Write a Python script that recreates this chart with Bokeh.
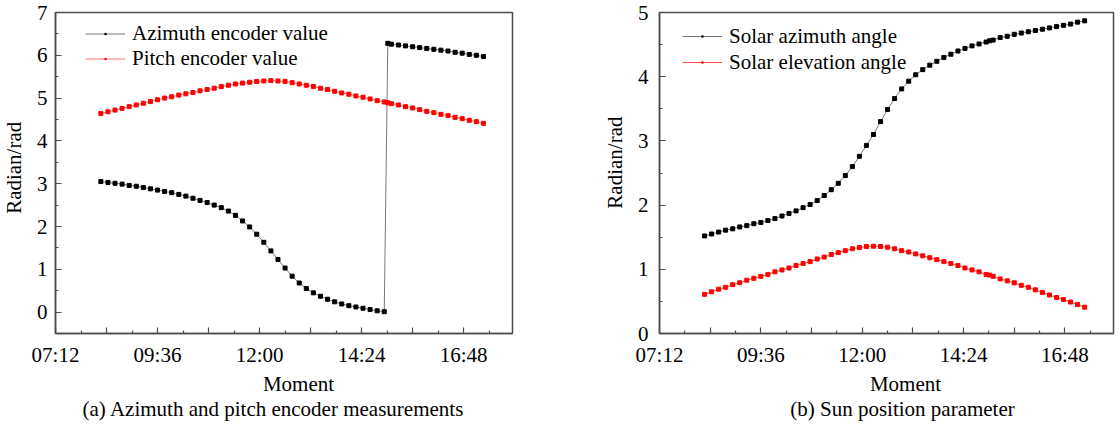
import math
from bokeh.plotting import figure
from bokeh.models import FixedTicker, Legend, LegendItem
from bokeh.layouts import row, column
from bokeh.embed import file_html
from bokeh.resources import INLINE
from bokeh.core.properties import value

# ---------------- data ----------------
times = ["08:16", "08:26", "08:36", "08:46", "08:56", "09:06", "09:16", "09:26", "09:36", "09:46",
         "09:56", "10:06", "10:16", "10:26", "10:36", "10:46", "10:56", "11:06", "11:16", "11:26",
         "11:36", "11:46", "11:56", "12:06", "12:16", "12:26", "12:36", "12:46", "12:56", "13:06",
         "13:16", "13:26", "13:36", "13:46", "13:56", "14:06", "14:16", "14:26", "14:36", "14:46",
         "14:56", "15:01", "15:06", "15:16", "15:26", "15:36", "15:46", "15:56", "16:06", "16:16",
         "16:26", "16:36", "16:46", "16:56", "17:06", "17:16"]

azimuth_encoder = [3.05, 3.03, 3.01, 2.99, 2.96, 2.94, 2.91, 2.88, 2.85, 2.82,
                   2.79, 2.75, 2.71, 2.66, 2.61, 2.56, 2.50, 2.44, 2.36, 2.26,
                   2.13, 1.99, 1.82, 1.63, 1.43, 1.23, 1.03, 0.84, 0.68, 0.55,
                   0.45, 0.37, 0.30, 0.24, 0.19, 0.15, 0.12, 0.09, 0.06, 0.03,
                   0.01, 6.28, 6.26, 6.24, 6.22, 6.20, 6.18, 6.16, 6.14, 6.12,
                   6.10, 6.07, 6.05, 6.02, 6.00, 5.97]

pitch_encoder = [4.64, 4.68, 4.72, 4.76, 4.80, 4.84, 4.88, 4.92, 4.96, 5.00,
                 5.03, 5.07, 5.10, 5.13, 5.17, 5.20, 5.23, 5.27, 5.30, 5.33,
                 5.35, 5.37, 5.39, 5.40, 5.41, 5.40, 5.39, 5.36, 5.33, 5.30,
                 5.27, 5.23, 5.20, 5.16, 5.12, 5.09, 5.05, 5.02, 4.98, 4.94,
                 4.91, 4.89, 4.87, 4.84, 4.80, 4.77, 4.73, 4.69, 4.66, 4.62,
                 4.59, 4.55, 4.52, 4.48, 4.45, 4.41]

solar_azimuth = [1.52, 1.55, 1.58, 1.61, 1.63, 1.66, 1.68, 1.71, 1.73, 1.76,
                 1.79, 1.83, 1.87, 1.91, 1.96, 2.01, 2.07, 2.15, 2.24, 2.34,
                 2.46, 2.60, 2.76, 2.93, 3.10, 3.30, 3.49, 3.66, 3.81, 3.93,
                 4.03, 4.11, 4.18, 4.24, 4.30, 4.35, 4.40, 4.44, 4.48, 4.51,
                 4.54, 4.56, 4.57, 4.61, 4.63, 4.66, 4.68, 4.70, 4.72, 4.74,
                 4.76, 4.78, 4.80, 4.82, 4.85, 4.87]

solar_elevation = [0.61, 0.65, 0.69, 0.72, 0.76, 0.79, 0.83, 0.86, 0.89, 0.92,
                   0.96, 0.99, 1.02, 1.06, 1.09, 1.12, 1.16, 1.19, 1.23, 1.26,
                   1.29, 1.32, 1.34, 1.355, 1.36, 1.355, 1.345, 1.32, 1.29, 1.27,
                   1.24, 1.21, 1.18, 1.15, 1.12, 1.09, 1.06, 1.02, 0.99, 0.96,
                   0.92, 0.91, 0.89, 0.85, 0.82, 0.79, 0.75, 0.72, 0.68, 0.64,
                   0.60, 0.56, 0.53, 0.49, 0.45, 0.41]

x_major_ticks = [7.2, 8.4, 9.6, 10.8, 12.0, 13.2, 14.4, 15.6, 16.8]
x_major_labels = ["07:12", "", "09:36", "", "12:00", "", "14:24", "", "16:48"]
x_minor_ticks = [7.8, 9.0, 10.2, 11.4, 12.6, 13.8, 15.0, 16.2, 17.4]

left_y_ticks = [0, 1, 2, 3, 4, 5, 6, 7]
left_y_minor = [0.5, 1.5, 2.5, 3.5, 4.5, 5.5, 6.5]
right_y_ticks = [0, 1, 2, 3, 4, 5]
right_y_minor = [0.5, 1.5, 2.5, 3.5, 4.5]

y_label = "Radian/rad"
x_label = "Moment"
captions = ["(a) Azimuth and pitch encoder measurements", "(b) Sun position parameter"]
legend_a = ["Azimuth encoder value", "Pitch encoder value"]
legend_b = ["Solar azimuth angle", "Solar elevation angle"]

hours = [int(t[:2]) + int(t[3:]) / 60.0 for t in times]

FONT = "Liberation Serif"
FS = "21px"
AX = "#4d4d4d"
MAIN_H = 370


def blank_fig(width, height):
    p = figure(width=width, height=height, x_range=(0, width), y_range=(0, height),
               x_axis_type=None, y_axis_type=None, output_backend="svg",
               toolbar_location=None, min_border=0)
    p.outline_line_color = None
    p.xgrid.visible = False
    p.ygrid.visible = False
    return p


def put_text(p, x, y, text, angle=0.0):
    p.text(x=[x], y=[y], text=[text], angle=angle, text_font=value(FONT),
           text_font_size=FS, text_color="black", text_align="center",
           text_baseline="middle")


def make_fig(width, left, right, yr, yt, ym, ystand):
    p = figure(width=width, height=MAIN_H, x_range=(7.2, 17.95), y_range=yr,
               output_backend="svg", toolbar_location=None,
               min_border_left=left, min_border_right=right,
               min_border_top=12, min_border_bottom=37)
    p.xgrid.visible = False
    p.ygrid.visible = False
    p.outline_line_color = AX
    p.outline_line_width = 1.5
    p.xaxis.ticker = FixedTicker(ticks=x_major_ticks, minor_ticks=x_minor_ticks)
    p.xaxis.major_label_overrides = dict(zip(x_major_ticks, x_major_labels))
    p.yaxis.ticker = FixedTicker(ticks=yt, minor_ticks=ym)
    for ax in (p.xaxis, p.yaxis):
        ax.axis_line_color = AX
        ax.axis_line_width = 1.5
        ax.major_tick_line_color = AX
        ax.minor_tick_line_color = AX
        ax.major_tick_line_width = 1.2
        ax.minor_tick_line_width = 1.2
        ax.major_tick_in = 6
        ax.major_tick_out = 0
        ax.minor_tick_in = 3
        ax.minor_tick_out = 0
        ax.major_label_text_font = FONT
        ax.major_label_text_font_size = FS
        ax.major_label_text_color = "black"
    p.xaxis.major_label_standoff = 9
    p.yaxis.major_label_standoff = ystand
    return p


def add_series(p, ys, color, line_color):
    l = p.line(hours, ys, line_color=line_color, line_width=0.8)
    p.scatter(hours, ys, marker="square", size=4, fill_color=color, line_color=color)
    # small dots drawn on top of the squares; they also give the legend its small marker
    d = p.scatter(hours, ys, marker="dot", size=4, fill_color=color, line_color=color,
                  line_width=1.5)
    return [l, d]


def add_legend(p, labels, rends, loc, h):
    lg = Legend(items=[LegendItem(label=t, renderers=r) for t, r in zip(labels, rends)],
                location=loc, border_line_color=None, background_fill_alpha=0,
                label_text_font=FONT, label_text_font_size=FS, label_text_color="black",
                glyph_width=40, glyph_height=h, label_height=h, label_standoff=7,
                padding=0, spacing=0, margin=0)
    p.add_layout(lg)


# ---------------- panel (a) ----------------
lab1 = blank_fig(30, MAIN_H)
put_text(lab1, 13, MAIN_H - 179, y_label, math.pi / 2)

p1 = make_fig(538, 25, 56, (-0.5, 7), left_y_ticks, left_y_minor, 8)
r_az = add_series(p1, azimuth_encoder, "black", "#555555")
r_pi = add_series(p1, pitch_encoder, "#ff0000", "#ff5050")
add_legend(p1, legend_a, [r_az, r_pi], (30, 262), 25)

# ---------------- panel (b) ----------------
lab2 = blank_fig(62, MAIN_H)
put_text(lab2, 614 - 568, MAIN_H - 173, y_label, math.pi / 2)

p2 = make_fig(490, 29, 7, (0, 5), right_y_ticks, right_y_minor, 11)
r_sa = add_series(p2, solar_azimuth, "black", "#555555")
r_se = add_series(p2, solar_elevation, "#ff0000", "#ff2020")
add_legend(p2, legend_b, [r_sa, r_se], (23, 258), 26)

# ---------------- bottom texts ----------------
BOT_H = 55
bottom = blank_fig(1120, BOT_H)
put_text(bottom, 298, 425 - 383, x_label)
put_text(bottom, 273, 425 - 408, captions[0])
put_text(bottom, 905, 425 - 383, x_label)
put_text(bottom, 902, 425 - 408, captions[1])

layout = column(row(lab1, p1, lab2, p2), bottom)
open("out.html", "w").write(file_html(layout, INLINE))
